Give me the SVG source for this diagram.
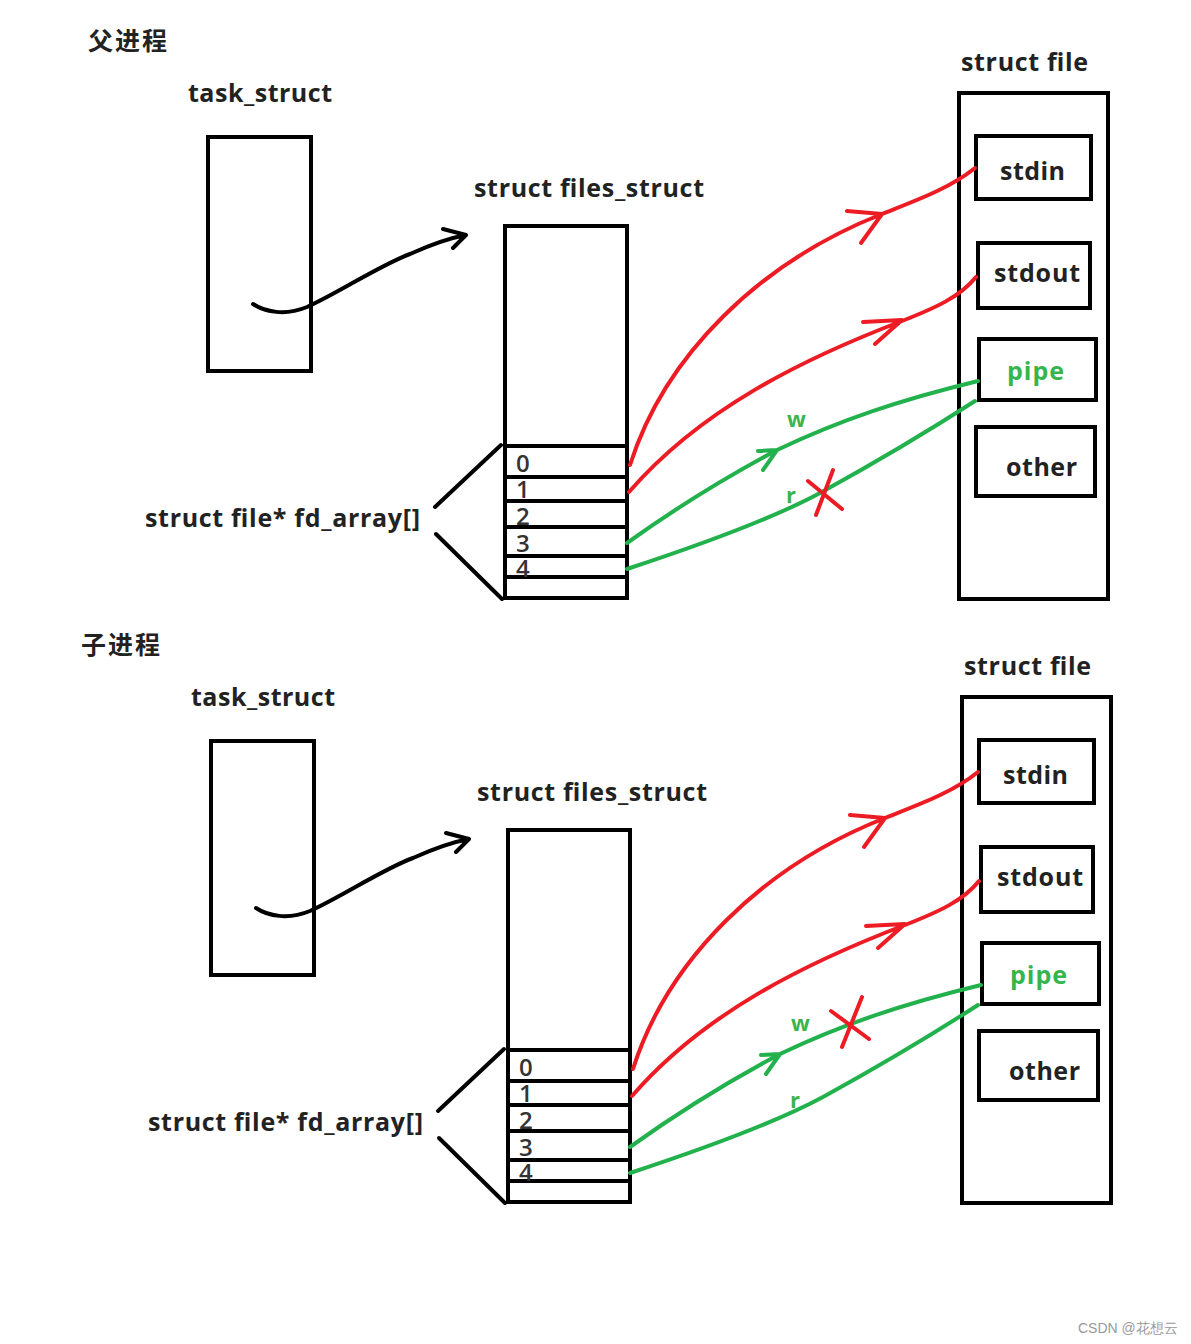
<svg xmlns="http://www.w3.org/2000/svg" width="1191" height="1344" viewBox="0 0 1191 1344">
<style>
text{font-family:"Open Sans","Noto Sans","Noto Sans CJK SC",sans-serif;font-weight:bold;fill:#222}
.cn{font-family:"Noto Sans CJK SC",sans-serif;font-size:25px}
.lbl{font-size:25px}
.dig{font-size:24px;font-weight:600;fill:#333;font-family:"Open Sans",sans-serif}
.gt{fill:#35b54b}
.box{fill:none;stroke:#000;stroke-width:4}
.blk{fill:none;stroke:#000;stroke-width:4;stroke-linecap:round;stroke-linejoin:round}
.red{fill:none;stroke:#ed1c24;stroke-width:4;stroke-linecap:round;stroke-linejoin:round}
.grn{fill:none;stroke:#22b14c;stroke-width:4;stroke-linecap:round;stroke-linejoin:round}
.sm{font-size:22px;fill:#3cb44e}
.wm{font-family:"Liberation Sans",sans-serif;font-weight:normal;font-size:14px;fill:#999}
</style>
<rect width="1191" height="1344" fill="#fff"/>

<g id="parent">
  <text id="parent-title" class="cn" x="88" y="50" textLength="79">父进程</text>
  <g id="p-task">
    <text class="lbl" x="188" y="102" textLength="144">task_struct</text>
    <rect class="box" x="208" y="137" width="103" height="234"/>
  </g>
  <g id="p-files">
    <text class="lbl" x="474" y="197" textLength="230">struct files_struct</text>
    <rect class="box" x="505" y="226" width="122" height="372"/>
    <path class="box" d="M505,446H627M505,477H627M505,501H627M505,527H627M505,556H627M505,577H627"/>
    <text class="dig" x="516" y="472">0</text>
    <text class="dig" x="516" y="498">1</text>
    <text class="dig" x="516" y="525">2</text>
    <text class="dig" x="516" y="552">3</text>
    <text class="dig" x="516" y="577">4</text>
  </g>
  <g id="p-fdarray">
    <text class="lbl" x="145" y="527" textLength="275">struct file* fd_array[]</text>
    <path class="blk" d="M435,507L501,445M436,534L502,599"/>
  </g>
  <g id="p-file">
    <text class="lbl" x="961" y="71" textLength="127">struct file</text>
    <rect class="box" x="959" y="93" width="149" height="506"/>
  </g>
  <g id="p-stdin"><rect class="box" x="976" y="136" width="115" height="63"/><text class="lbl" x="1000" y="180" textLength="65">stdin</text></g>
  <g id="p-stdout"><rect class="box" x="978" y="243" width="112" height="65"/><text class="lbl" x="994" y="282" textLength="86">stdout</text></g>
  <g id="p-pipe"><rect class="box" x="979" y="339" width="117" height="61"/><text class="lbl gt" x="1007" y="380" textLength="57">pipe</text></g>
  <g id="p-other"><rect class="box" x="976" y="427" width="119" height="69"/><text class="lbl" x="1006" y="476" textLength="71">other</text></g>
  <g id="p-connectors">
    <path class="blk" d="M253,304C265,312 285,316 307,307C340,292 380,265 410,254C430,245 450,238 466,235M443,229L466,235L453,248"/>
    <path class="red" d="M630,465C665,355 760,262 882,214C920,199 950,188 975,168M847,211L882,214L861,243"/>
    <path class="red" d="M629,492C700,410 800,360 902,321C935,308 960,297 976,277M863,322L902,320L875,344"/>
    <path class="grn" d="M627,543C680,505 730,475 777,450C840,420 900,400 978,381M758,451L777,450L763,470"/>
    <path class="grn" d="M627,569C700,545 770,520 820,493C880,460 930,430 975,401"/>
    <text class="sm" x="787" y="427">w</text>
    <text class="sm" x="786" y="503">r</text>
    <path class="red" d="M808,481L842,509M833,470L816,515"/>
  </g>
</g>

<g id="child" transform="translate(3,604)">
  <text id="child-title" class="cn" x="78" y="50" textLength="79">子进程</text>
  <g id="c-task">
    <text class="lbl" x="188" y="102" textLength="144">task_struct</text>
    <rect class="box" x="208" y="137" width="103" height="234"/>
  </g>
  <g id="c-files">
    <text class="lbl" x="474" y="197" textLength="230">struct files_struct</text>
    <rect class="box" x="505" y="226" width="122" height="372"/>
    <path class="box" d="M505,446H627M505,477H627M505,501H627M505,527H627M505,556H627M505,577H627"/>
    <text class="dig" x="516" y="472">0</text>
    <text class="dig" x="516" y="498">1</text>
    <text class="dig" x="516" y="525">2</text>
    <text class="dig" x="516" y="552">3</text>
    <text class="dig" x="516" y="577">4</text>
  </g>
  <g id="c-fdarray">
    <text class="lbl" x="145" y="527" textLength="275">struct file* fd_array[]</text>
    <path class="blk" d="M435,507L501,445M436,534L502,599"/>
  </g>
  <g id="c-file">
    <text class="lbl" x="961" y="71" textLength="127">struct file</text>
    <rect class="box" x="959" y="93" width="149" height="506"/>
  </g>
  <g id="c-stdin"><rect class="box" x="976" y="136" width="115" height="63"/><text class="lbl" x="1000" y="180" textLength="65">stdin</text></g>
  <g id="c-stdout"><rect class="box" x="978" y="243" width="112" height="65"/><text class="lbl" x="994" y="282" textLength="86">stdout</text></g>
  <g id="c-pipe"><rect class="box" x="979" y="339" width="117" height="61"/><text class="lbl gt" x="1007" y="380" textLength="57">pipe</text></g>
  <g id="c-other"><rect class="box" x="976" y="427" width="119" height="69"/><text class="lbl" x="1006" y="476" textLength="71">other</text></g>
  <g id="c-connectors">
    <path class="blk" d="M253,304C265,312 285,316 307,307C340,292 380,265 410,254C430,245 450,238 466,235M443,229L466,235L453,248"/>
    <path class="red" d="M630,465C665,355 760,262 882,214C920,199 950,188 975,168M847,211L882,214L861,243"/>
    <path class="red" d="M629,492C700,410 800,360 902,321C935,308 960,297 976,277M863,322L902,320L875,344"/>
    <path class="grn" d="M627,543C680,505 730,475 777,450C840,420 900,400 978,381M758,451L777,450L763,470"/>
    <path class="grn" d="M627,569C700,545 770,520 820,493C880,460 930,430 975,401"/>
    <text class="sm" x="788" y="427">w</text>
    <text class="sm" x="787" y="504">r</text>
    <path class="red" d="M828,407L866,435M859,393L839,443"/>
  </g>
</g>

<text class="wm" x="1078" y="1333">CSDN @花想云</text>
</svg>
